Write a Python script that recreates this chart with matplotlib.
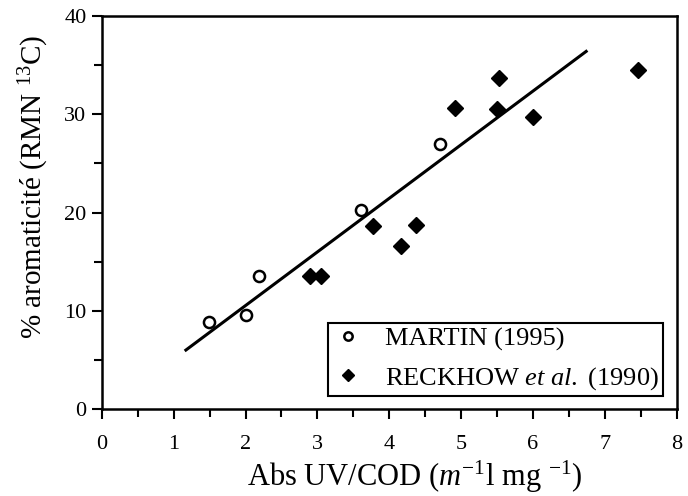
import matplotlib
matplotlib.use("Agg")
import matplotlib.pyplot as plt
from matplotlib.ticker import MultipleLocator

plt.rcParams["font.family"] = ["Liberation Serif", "DejaVu Serif"]
plt.rcParams["mathtext.fontset"] = "custom"
plt.rcParams["mathtext.rm"] = "Liberation Serif"
plt.rcParams["mathtext.it"] = "Liberation Serif:italic"

# MARTIN (1995) - open circles
martin_x = [1.49, 2.00, 2.19, 3.61, 4.71]
martin_y = [8.85, 9.6, 13.5, 20.3, 27.0]

# RECKHOW et al. (1990) - filled diamonds
reckhow_x = [2.90, 3.05, 3.77, 4.17, 4.37, 4.92, 5.50, 5.52, 6.00, 7.46]
reckhow_y = [13.5, 13.5, 18.6, 16.6, 18.7, 30.6, 30.5, 33.7, 29.7, 34.5]

# regression line end points
fit_x = [1.17, 6.74]
fit_y = [6.0, 36.4]

fig = plt.figure(figsize=(6.88, 4.96), dpi=100)
ax = fig.add_axes([0.148, 0.1754, 0.8356, 0.7923])

ax.plot(fit_x, fit_y, color="black", lw=2.2, zorder=2)
ax.plot(martin_x, martin_y, "o", ms=8, mfc="white", mec="black", mew=1.8,
        ls="none", label="MARTIN (1995)", zorder=3)
ax.plot(reckhow_x, reckhow_y, "D", ms=8, color="black",
        ls="none", label=r"RECKHOW $\it{et\ al.}$ (1990)", zorder=3)

ax.set_xlim(0, 8)
ax.set_ylim(0, 40)
ax.xaxis.set_major_locator(MultipleLocator(1))
ax.xaxis.set_minor_locator(MultipleLocator(0.5))
ax.yaxis.set_major_locator(MultipleLocator(10))
ax.yaxis.set_minor_locator(MultipleLocator(5))
ax.tick_params(which="both", direction="out", width=1.5, top=False, right=False)
ax.tick_params(which="major", length=7)
ax.tick_params(which="minor", length=6)
ax.tick_params(axis="x", labelsize=16, pad=12)
ax.tick_params(axis="y", labelsize=16, pad=4)
for s in ax.spines.values():
    s.set_linewidth(1.8)

ax.set_xlabel(r"Abs UV/COD ($m^{-1}$l mg $^{-1}$)", fontsize=22)
ax.xaxis.set_label_coords(0.545, -0.126)
ax.set_ylabel(r"% aromaticité (RMN $^{13}$C)", fontsize=21)
ax.yaxis.set_label_coords(-0.088, 0.565)

leg = ax.legend(loc="lower right", bbox_to_anchor=(0.976, 0.033), fontsize=19,
                frameon=True, fancybox=False, edgecolor="black", framealpha=1,
                borderpad=0.15, borderaxespad=0, handletextpad=0.8,
                labelspacing=0.55, handlelength=1.2, markerscale=0.75)
leg.get_frame().set_linewidth(1.5)

fig.savefig("out.png", dpi=100)
